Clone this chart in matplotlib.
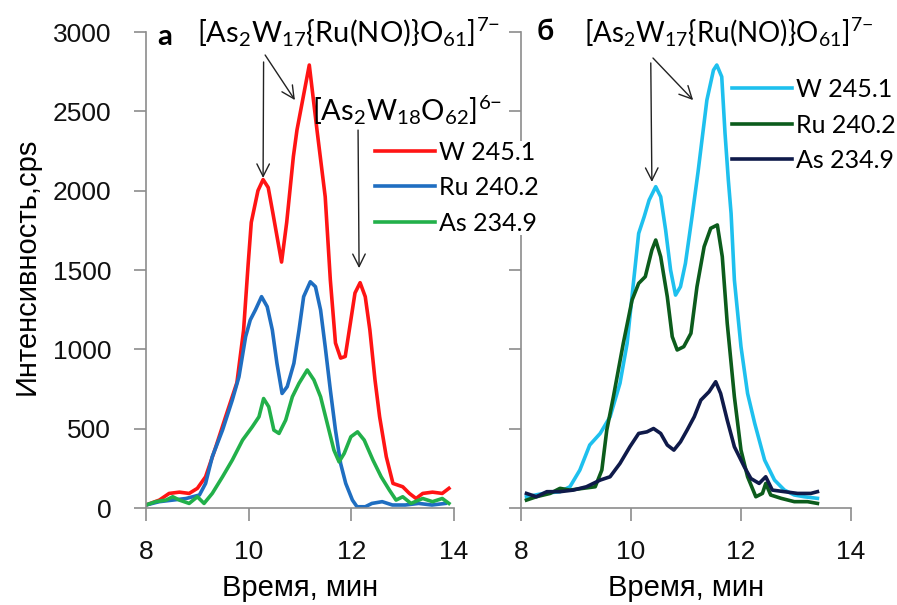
import matplotlib
matplotlib.use("Agg")
import matplotlib.pyplot as plt

# --- данные, панель а ---
t_w_a = [8.0, 8.26, 8.45, 8.65, 8.84, 9.0, 9.16, 9.36, 9.55, 9.77, 9.9, 9.99, 10.05, 10.18, 10.28,
         10.38, 10.47, 10.64, 10.74, 10.87, 10.94, 11.18, 11.33, 11.49, 11.59, 11.69, 11.79, 11.88,
         11.98, 12.07, 12.17, 12.27, 12.36, 12.46, 12.55, 12.68, 12.81, 13.0, 13.13, 13.26, 13.39,
         13.58, 13.77, 13.9]
w_a = [19, 50, 92, 100, 92, 124, 197, 386, 575, 790, 1120, 1540, 1800, 2000, 2070,
       2020, 1860, 1550, 1800, 2215, 2382, 2792, 2382, 1962, 1437, 1040, 945, 955,
       1165, 1355, 1420, 1332, 1122, 807, 575, 323, 155, 134, 92, 60, 92,
       100, 92, 124]

t_ru_a = [8.0, 8.26, 8.52, 8.78, 9.04, 9.16, 9.29, 9.49, 9.68, 9.81, 9.94, 10.03, 10.13, 10.25,
          10.36, 10.46, 10.55, 10.65, 10.75, 10.88, 10.98, 11.07, 11.2, 11.3, 11.4, 11.49, 11.59,
          11.69, 11.79, 11.89, 12.02, 12.11, 12.27, 12.4, 12.6, 12.8, 13.05, 13.31, 13.57, 13.83]
ru_a = [19, 40, 50, 60, 82, 155, 323, 491, 680, 827, 1080, 1185, 1248, 1332,
        1269, 1122, 912, 722, 765, 912, 1122, 1332, 1426, 1395, 1248, 1017, 744,
        491, 281, 155, 50, 8, 8, 29, 40, 19, 19, 29, 19, 29]

t_as_a = [8.0, 8.19, 8.39, 8.52, 8.65, 8.84, 9.0, 9.13, 9.29, 9.49, 9.68, 9.88, 10.07, 10.2,
          10.29, 10.39, 10.49, 10.59, 10.72, 10.85, 10.98, 11.14, 11.27, 11.4, 11.53, 11.66,
          11.76, 11.86, 11.99, 12.12, 12.25, 12.42, 12.58, 12.74, 12.87, 13.0, 13.16, 13.39,
          13.58, 13.77, 13.9]
as_a = [19, 40, 50, 71, 50, 29, 71, 29, 92, 197, 302, 428, 512, 575,
        690, 638, 491, 470, 554, 701, 786, 870, 807, 701, 533, 365,
        291, 344, 449, 480, 428, 302, 197, 113, 50, 71, 29, 60,
        40, 60, 29]

# --- данные, панель б ---
t_w_b = [8.1, 8.41, 8.71, 8.89, 9.07, 9.25, 9.44, 9.62, 9.8, 9.93, 10.05, 10.14, 10.24, 10.33,
         10.45, 10.54, 10.63, 10.72, 10.81, 10.9, 10.99, 11.11, 11.22, 11.38, 11.5, 11.56, 11.65,
         11.71, 11.77, 11.82, 11.88, 12.0, 12.12, 12.25, 12.43, 12.61, 12.79, 12.97, 13.15, 13.39]
w_b = [71, 92, 103, 134, 239, 397, 470, 575, 786, 1038, 1437, 1731, 1836, 1941,
       2025, 1962, 1752, 1500, 1342, 1395, 1542, 1836, 2120, 2571, 2760, 2792, 2718,
       2361, 2067, 1857, 1437, 1017, 722, 533, 302, 176, 113, 82, 71, 61]

t_ru_b = [8.1, 8.28, 8.53, 8.71, 8.89, 9.13, 9.35, 9.47, 9.56, 9.68, 9.86, 10.02, 10.14, 10.26,
          10.38, 10.45, 10.54, 10.66, 10.75, 10.84, 10.96, 11.09, 11.2, 11.33, 11.45, 11.57,
          11.66, 11.75, 11.88, 12.0, 12.12, 12.27, 12.39, 12.45, 12.54, 12.73, 12.97, 13.21, 13.39]
ru_b = [50, 71, 92, 124, 113, 124, 134, 239, 491, 701, 1038, 1311, 1416, 1458,
        1626, 1689, 1584, 1332, 1080, 996, 1017, 1101, 1395, 1647, 1763, 1784,
        1584, 1164, 701, 365, 197, 71, 92, 155, 82, 61, 40, 40, 29]

t_as_b = [8.1, 8.28, 8.47, 8.71, 8.95, 9.19, 9.44, 9.62, 9.8, 9.98, 10.14, 10.29, 10.41, 10.54,
          10.66, 10.78, 10.9, 11.02, 11.15, 11.27, 11.42, 11.54, 11.63, 11.75, 11.88, 12.06,
          12.18, 12.33, 12.45, 12.57, 12.79, 13.03, 13.27, 13.39]
as_b = [92, 71, 103, 103, 113, 134, 176, 197, 281, 386, 470, 480, 501, 470,
        397, 365, 417, 491, 575, 680, 733, 796, 722, 554, 386, 260,
        186, 155, 197, 113, 103, 92, 92, 103]

labels = ["W 245.1", "Ru 240.2", "As 234.9"]
x_ticks = [8, 10, 12, 14]
y_ticks = [0, 500, 1000, 1500, 2000, 2500, 3000]

plt.rcParams['mathtext.fontset'] = 'custom'
plt.rcParams['mathtext.rm'] = 'Lato'
plt.rcParams['mathtext.it'] = 'Lato:italic'
plt.rcParams['mathtext.bf'] = 'Lato:bold'

AX_FONT = ['Liberation Sans Narrow', 'Liberation Sans', 'DejaVu Sans']
TICK_FONT = ['Liberation Sans', 'DejaVu Sans']
NOTE_FONT = ['Lato', 'DejaVu Sans']

fig = plt.figure(figsize=(8.97, 6.05), dpi=100)
ax1 = fig.add_axes([0.1628, 0.1603, 0.3434, 0.7868])
ax2 = fig.add_axes([0.5808, 0.1603, 0.3679, 0.7868])
ax1.set_zorder(3)  # легенда панели а перекрывает ось панели б
ax1.patch.set_alpha(0)

def style_axes(ax, show_labels):
    ax.set_xlim(8, 14)
    ax.set_ylim(0, 3000)
    ax.set_xticks(x_ticks)
    ax.set_yticks(y_ticks)
    for s in ["top", "right"]:
        ax.spines[s].set_visible(False)
    for s in ["left", "bottom"]:
        ax.spines[s].set_color("#8c8c8c")
        ax.spines[s].set_linewidth(1.2)
    ax.tick_params(axis="both", direction="out", length=9, width=1.2, color="#8c8c8c")
    ax.tick_params(axis="x", pad=14)
    ax.tick_params(axis="y", pad=16)
    for lab in ax.get_xticklabels() + ax.get_yticklabels():
        lab.set_fontfamily(TICK_FONT)
        lab.set_fontsize(19)
        lab.set_color("#111111")
    if not show_labels:
        ax.set_yticklabels([])
    ax.set_xlabel("Время, мин", fontsize=21, family=AX_FONT, labelpad=7)

lw = 2.6
ax1.plot(t_w_a, w_a, color="#ff1414", lw=lw, label=labels[0])
ax1.plot(t_ru_a, ru_a, color="#1f6ec1", lw=lw, label=labels[1])
ax1.plot(t_as_a, as_a, color="#22b04a", lw=lw, label=labels[2])

ax2.plot(t_w_b, w_b, color="#1ec0ee", lw=lw, label=labels[0])
ax2.plot(t_ru_b, ru_b, color="#0c5c1c", lw=lw, label=labels[1])
ax2.plot(t_as_b, as_b, color="#0f1a4a", lw=lw, label=labels[2])

style_axes(ax1, True)
style_axes(ax2, False)

leg_kw = dict(loc="upper left", frameon=True, facecolor="white", edgecolor="none", framealpha=1,
              fancybox=False, handlelength=2.4, handletextpad=0.15, labelspacing=0.5,
              borderpad=0, borderaxespad=0, prop={'family': NOTE_FONT, 'size': 18})
leg1 = ax1.legend(bbox_to_anchor=(0.743, 0.772), **leg_kw)
leg2 = ax2.legend(bbox_to_anchor=(0.639, 0.903), **leg_kw)

fig.text(0.03, 0.56, "Интенсивность,cps", rotation=90, ha="center", va="center",
         fontsize=21, family=AX_FONT)

big_ion = r"[As$_2$W$_{17}${Ru(NO)}O$_{61}$]$^{7\mathrm{-}}$"
small_ion = r"[As$_2$W$_{18}$O$_{62}$]$^{6\mathrm{-}}$"

arrow = dict(arrowstyle="->,head_length=0.9,head_width=0.45", color="#222222", lw=1.0,
             shrinkA=0, shrinkB=0)

# панель а
ax1.text(0.062, 2920, "а", fontsize=21, fontweight="bold", family=NOTE_FONT,
         transform=ax1.get_yaxis_transform(), ha="center", va="baseline", clip_on=False)
ax1.text(11.94, 2937, big_ion, fontsize=21, family=NOTE_FONT, ha="center", va="baseline",
         clip_on=False)
ax1.text(13.08, 2445, small_ion, fontsize=21, family=NOTE_FONT, ha="center", va="baseline",
         clip_on=False)
ax1.annotate("", xy=(10.28, 2080), xytext=(10.29, 2811), arrowprops=arrow)
ax1.annotate("", xy=(10.9, 2571), xytext=(10.32, 2855), arrowprops=arrow)
ax1.annotate("", xy=(12.15, 1512), xytext=(12.13, 2382), arrowprops=arrow)

# панель б
ax2.text(0.073, 2950, "б", fontsize=21, fontweight="bold", family=NOTE_FONT,
         transform=ax2.get_yaxis_transform(), ha="center", va="baseline", clip_on=False)
ax2.text(11.78, 2937, big_ion, fontsize=20, family=NOTE_FONT, ha="center", va="baseline",
         clip_on=False)
ax2.annotate("", xy=(10.38, 2055), xytext=(10.36, 2805), arrowprops=arrow)
ax2.annotate("", xy=(11.13, 2571), xytext=(10.4, 2836), arrowprops=arrow)

fig.savefig("out.png", dpi=100)
